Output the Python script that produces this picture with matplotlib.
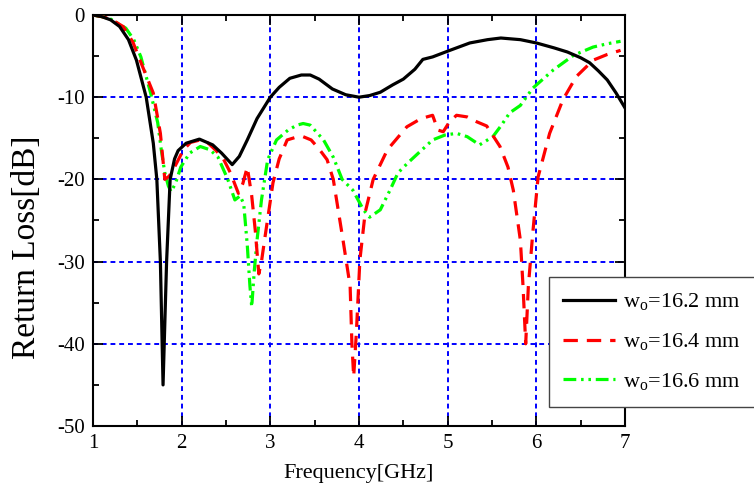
import matplotlib
matplotlib.use("Agg")
import matplotlib.pyplot as plt
from matplotlib.ticker import MultipleLocator

plt.rcParams['font.family'] = ['Liberation Serif', 'DejaVu Serif']
plt.rcParams['mathtext.fontset'] = 'custom'
plt.rcParams['mathtext.rm'] = 'Liberation Serif'
plt.rcParams['mathtext.it'] = 'Liberation Serif:italic'
plt.rcParams['axes.unicode_minus'] = False

# w_o = 16.2 mm
f_b = [1.0, 1.1, 1.2, 1.3, 1.4, 1.49, 1.6, 1.68, 1.72, 1.76, 1.79, 1.83, 1.87, 1.92, 1.96, 2.05,
       2.2, 2.35, 2.45, 2.57, 2.65, 2.74, 2.85, 3.0, 3.1, 3.22, 3.35, 3.45, 3.55, 3.7, 3.85, 4.0,
       4.12, 4.24, 4.38, 4.5, 4.63, 4.72, 4.83, 5.0, 5.25, 5.45, 5.6, 5.82, 6.0, 6.2, 6.35, 6.5,
       6.6, 6.7, 6.8, 6.9, 7.0]
rl_b = [0, -0.2, -0.6, -1.4, -3.0, -5.5, -10, -15.6, -20, -30, -45, -30, -20, -17.5, -16.5, -15.6,
        -15.1, -15.8, -16.8, -18.2, -17.2, -15.2, -12.6, -10, -8.8, -7.7, -7.3, -7.3, -7.8, -9.0, -9.7, -10,
        -9.8, -9.4, -8.5, -7.8, -6.6, -5.4, -5.1, -4.4, -3.4, -3.0, -2.8, -3.0, -3.4, -4.0, -4.5, -5.2,
        -5.8, -6.8, -7.9, -9.5, -11.3]

# w_o = 16.4 mm
f_r = [1.0, 1.1, 1.2, 1.34, 1.45, 1.56, 1.68, 1.76, 1.81, 1.86, 1.92, 2.02, 2.1, 2.21, 2.3, 2.38,
       2.47, 2.55, 2.64, 2.69, 2.74, 2.79, 2.83, 2.87, 2.9, 2.94, 3.03, 3.1, 3.19, 3.28, 3.37, 3.46,
       3.55, 3.64, 3.71, 3.82, 3.9, 3.92, 3.94, 3.97, 4.01, 4.07, 4.16, 4.32, 4.54, 4.7, 4.83, 4.89,
       4.95, 5.02, 5.1, 5.22, 5.33, 5.44, 5.59, 5.68, 5.74, 5.82, 5.85, 5.88, 5.91, 5.96, 6.02, 6.15,
       6.3, 6.45, 6.64, 6.8, 6.95]
rl_r = [0, -0.2, -0.5, -1.4, -3.3, -6.3, -9.5, -14.4, -20, -19.6, -18.5, -16.4, -15.5, -15.2, -15.6, -16.4,
        -17.5, -19.2, -21.7, -20.5, -18.5, -22, -26.2, -31.5, -30, -27, -20.4, -17.5, -15.2, -14.9, -14.8, -15.2,
        -16.3, -17.6, -20, -27.4, -33, -40, -44, -38.7, -29.8, -24, -20, -16.4, -13.6, -12.6, -12.2, -14,
        -14.2, -13, -12.2, -12.4, -13, -13.5, -16, -18.5, -21.3, -27.4, -33, -40, -33, -26.5, -19.7, -14.4,
        -10.3, -7.5, -5.5, -4.8, -4.3]

# w_o = 16.6 mm
f_g = [1.0, 1.1, 1.2, 1.37, 1.46, 1.54, 1.65, 1.73, 1.77, 1.81, 1.85, 1.88, 1.93, 1.99, 2.09, 2.21,
       2.32, 2.41, 2.52, 2.6, 2.66, 2.7, 2.74, 2.77, 2.79, 2.82, 2.85, 2.9, 2.97, 3.07, 3.2, 3.3,
       3.37, 3.45, 3.6, 3.71, 3.81, 3.93, 4.05, 4.12, 4.24, 4.35, 4.44, 4.55, 4.7, 4.83, 4.97, 5.1,
       5.22, 5.36, 5.51, 5.6, 5.7, 5.82, 5.96, 6.19, 6.42, 6.64, 6.8, 6.95]
rl_g = [0, -0.2, -0.5, -1.6, -3.0, -5.1, -9.5, -13.1, -16.4, -19.2, -20.8, -21.5, -20.5, -18.5, -16.8, -16,
        -16.4, -17.3, -20, -22.5, -22, -23, -28, -33, -35.5, -31, -27.4, -22.5, -17.6, -15.2, -14, -13.4,
        -13.2, -13.4, -15.2, -17.3, -20, -21.3, -23.7, -24.6, -23.7, -21.3, -19.2, -18, -16.5, -15.2, -14.6, -14.4,
        -14.8, -15.8, -14.8, -13.5, -11.9, -11, -8.9, -6.7, -4.9, -3.9, -3.5, -3.2]

labels = [r'w$_\mathrm{o}$=16.2 mm', r'w$_\mathrm{o}$=16.4 mm', r'w$_\mathrm{o}$=16.6 mm']

fig = plt.figure(figsize=(7.54, 4.99), dpi=100)
ax = fig.add_axes([93/754, 1 - 426/499, (625 - 93)/754, (426 - 15)/499])

ax.plot(f_b, rl_b, color='black', lw=2.3, label=labels[0], zorder=5)
ax.plot(f_r, rl_r, color='red', lw=2.3, dashes=(4.5, 2.8), label=labels[1], zorder=4)
ax.plot(f_g, rl_g, color='#00ff00', lw=2.3, dashes=(4, 1.5, 0.8, 1.5, 0.8, 1.5), label=labels[2], zorder=3)

ax.set_xlim(1, 7)
ax.set_ylim(-50, 0)
ax.xaxis.set_major_locator(MultipleLocator(1))
ax.xaxis.set_minor_locator(MultipleLocator(0.5))
ax.yaxis.set_major_locator(MultipleLocator(10))
ax.yaxis.set_minor_locator(MultipleLocator(5))
ax.tick_params(which='both', direction='in', top=True, right=True, width=1.3, labelsize=15, pad=6)
ax.tick_params(which='major', length=7)
ax.tick_params(which='minor', length=4)
for s in ax.spines.values():
    s.set_linewidth(1.5)

ax.grid(True, which='major', color='blue', lw=1.4, linestyle=(0, (2.5, 2)))

ax.set_xlabel('Frequency[GHz]', fontsize=16, labelpad=8)
ax.set_ylabel('Return Loss[dB]', fontsize=24)
ax.yaxis.set_label_coords(-0.095, 0.435)

leg = ax.legend(loc='upper left', bbox_to_anchor=(549/754, 1 - 277/499), bbox_transform=fig.transFigure,
                borderaxespad=0, fontsize=16, fancybox=False, framealpha=1, edgecolor='#444444',
                handlelength=2.3, labelspacing=0.85, borderpad=0.65, handletextpad=0.4)
leg.get_frame().set_linewidth(1.0)
leg.set_zorder(10)

fig.savefig('out.png', dpi=100)
